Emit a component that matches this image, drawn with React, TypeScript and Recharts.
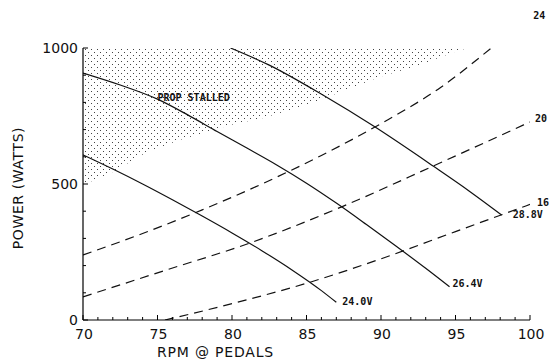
import React from 'react';
import { ComposedChart, Line, Area, XAxis, YAxis } from 'recharts';

// voltage lines (solid)
const rpm24v = [70, 72, 74, 76, 78, 80, 82, 84, 86, 87];
const pow24v = [607, 555, 500, 442, 382, 320, 255, 185, 108, 65];
const rpm26v = [70, 72.5, 75, 77, 79, 81, 83, 85, 87, 89, 91, 93, 94.6];
const pow26v = [908, 864, 812, 755, 693, 632, 570, 503, 430, 352, 272, 190, 122];
const rpm28v = [79.9, 82.5, 86.1, 89.5, 93.5, 96, 98.1];
const pow28v = [1000, 937, 827, 713, 566, 471, 386];

// prop curves (dashed)
const rpmP24 = [70, 74, 78, 82, 86, 90, 94, 97.4];
const powP24 = [239, 318, 405, 500, 605, 722, 855, 1000];
const rpmP20 = [70, 75.6, 81.2, 87.4, 93.5, 100];
const powP20 = [85, 184, 283, 417, 566, 728];
const rpmP16 = [75.5, 80, 85, 90, 95, 100];
const powP16 = [0, 60, 135, 225, 325, 425];

// prop stalled region, lower edge (upper edge is 1000 W)
const stallRpm = [70, 72, 74.3, 76.5, 79.9, 82.1, 83.9, 85.9, 89.9, 92.4, 95.3, 96];
const stallLow = [496, 544, 618, 662, 717, 743, 772, 809, 893, 934, 993, 1000];

const xTicks = Array.from({ length: 31 }, (_, i) => 70 + i);
const yTicks = Array.from({ length: 11 }, (_, i) => i * 100);
const xLabels = [70, 75, 80, 85, 90, 95, 100];
const yLabels = [0, 500, 1000];

const zip = (xs: number[], ys: number[]) => xs.map((rpm, i) => ({ rpm, power: ys[i] }));
const stallData = stallRpm.map((rpm, i) => ({ rpm, range: [stallLow[i], 1000] }));

const axisFont = "'DejaVu Sans', sans-serif";
const markFont = "'DejaVu Sans Mono', monospace";

const XTick = (props: any) => {
  const { x, y, payload } = props;
  const major = xLabels.includes(payload.value);
  return (
    <g>
      <line x1={x} x2={x} y1={y} y2={y - (major ? 5 : 3)} stroke="#000" strokeWidth={1} />
      {major && (
        <text x={x + 1} y={y + 19} textAnchor="middle" fontFamily={axisFont} fontSize={14} fill="#111">
          {payload.value}
        </text>
      )}
    </g>
  );
};

const YTick = (props: any) => {
  const { x, y, payload } = props;
  const major = yLabels.includes(payload.value);
  return (
    <g>
      <line x1={x} x2={x + (major ? 5 : 3)} y1={y} y2={y} stroke="#000" strokeWidth={1} />
      {major && (
        <text x={x - 5} y={y + 5} textAnchor="end" fontFamily={axisFont} fontSize={14} fill="#111">
          {payload.value}
        </text>
      )}
    </g>
  );
};

// text placed next to one point of a series
const pointLabel = (text: string, at: number, dx: number, dy: number) => (props: any) => {
  if (props.index !== at) return null;
  return (
    <text x={props.x + dx} y={props.y + dy} fontFamily={markFont} fontWeight="bold" fontSize={10} fill="#111">
      {text}
    </text>
  );
};

document.body.style.margin = '0';

export default function App() {
  return (
    <div style={{ width: 556, height: 361, background: '#fff' }}>
      <ComposedChart width={556} height={361} margin={{ top: 48, right: 26, left: 0, bottom: 0 }}>
        <defs>
          <pattern id="stipple" width="6" height="6" patternUnits="userSpaceOnUse">
            <rect x="1" y="1" width="1" height="1" fill="#444" />
            <rect x="4" y="4" width="1" height="1" fill="#444" />
          </pattern>
        </defs>
        <XAxis
          type="number"
          dataKey="rpm"
          domain={[70, 100]}
          ticks={xTicks}
          interval={0}
          allowDataOverflow
          height={41}
          tickSize={0}
          tickMargin={0}
          tick={<XTick />}
          axisLine={{ stroke: '#000', strokeWidth: 1.2 }}
          label={{
            content: (p: any) => (
              <text
                x={p.viewBox.x + p.viewBox.width / 2 - 91}
                y={p.viewBox.y + 37}
                textAnchor="middle"
                fontFamily={axisFont}
                fontSize={14}
                letterSpacing={0.8}
                fill="#111"
              >
                RPM @ PEDALS
              </text>
            ),
          }}
        />
        <YAxis
          type="number"
          domain={[0, 1000]}
          ticks={yTicks}
          interval={0}
          allowDataOverflow
          width={83}
          tickSize={0}
          tickMargin={0}
          tick={<YTick />}
          axisLine={{ stroke: '#000', strokeWidth: 1.2 }}
          label={{
            content: (p: any) => {
              const cx = p.viewBox.x + 23;
              const cy = p.viewBox.y + p.viewBox.height / 2 + 4;
              return (
                <text
                  x={cx}
                  y={cy}
                  transform={`rotate(-90 ${cx} ${cy})`}
                  textAnchor="middle"
                  fontFamily={axisFont}
                  fontSize={14}
                  letterSpacing={0.6}
                  fill="#111"
                >
                  POWER (WATTS)
                </text>
              );
            },
          }}
        />
        <Area
          data={stallData}
          dataKey="range"
          type="linear"
          stroke="none"
          fill="url(#stipple)"
          fillOpacity={1}
          isAnimationActive={false}
        />
        <Line data={zip(rpmP24, powP24)} dataKey="power" type="monotone" stroke="#111" strokeWidth={1.2}
          strokeDasharray="9 6" dot={false} isAnimationActive={false} label={pointLabel('24', rpmP24.length - 1, 42, -29)} />
        <Line data={zip(rpmP20, powP20)} dataKey="power" type="monotone" stroke="#111" strokeWidth={1.2}
          strokeDasharray="9 6" dot={false} isAnimationActive={false} label={pointLabel('20', rpmP20.length - 1, 5, 0)} />
        <Line data={zip(rpmP16, powP16)} dataKey="power" type="monotone" stroke="#111" strokeWidth={1.2}
          strokeDasharray="9 6" dot={false} isAnimationActive={false} label={pointLabel('16', rpmP16.length - 1, 7, 2)} />
        <Line data={zip(rpm24v, pow24v)} dataKey="power" type="monotone" stroke="#111" strokeWidth={1.2}
          dot={false} isAnimationActive={false} label={pointLabel('24.0V', rpm24v.length - 1, 6, 3)} />
        <Line data={zip(rpm26v, pow26v)} dataKey="power" type="monotone" stroke="#111" strokeWidth={1.2}
          dot={false} isAnimationActive={false} label={(p: any) => (
            <g>
              {pointLabel('PROP STALLED', 2, 0, 2)(p)}
              {pointLabel('26.4V', rpm26v.length - 1, 3, 0)(p)}
            </g>
          )} />
        <Line data={zip(rpm28v, pow28v)} dataKey="power" type="monotone" stroke="#111" strokeWidth={1.2}
          dot={false} isAnimationActive={false} label={pointLabel('28.8V', rpm28v.length - 1, 11, 3)} />
      </ComposedChart>
    </div>
  );
}
